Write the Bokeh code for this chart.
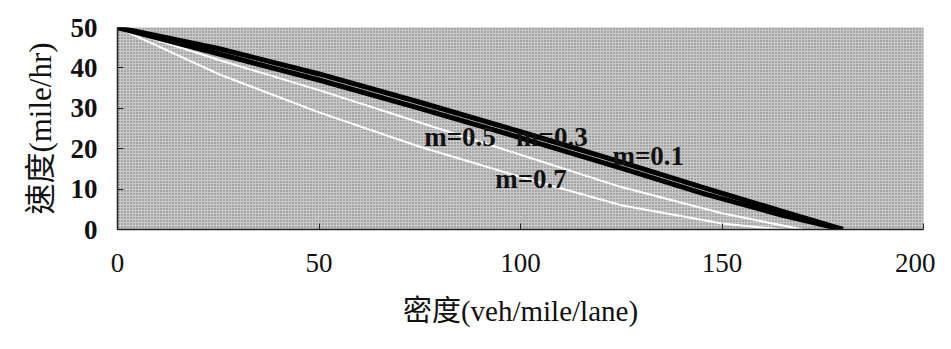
from bokeh.plotting import figure
from bokeh.models import Range1d, FixedTicker, BoxAnnotation
from bokeh.core.properties import value
from bokeh.embed import file_html
from bokeh.resources import INLINE

# density (veh/mile/lane) and speed (mile/hr)
k_m01 = [0, 25, 50, 75, 100, 125, 145, 165, 180]
u_m01 = [50, 44.8, 38.5, 31.5, 24.2, 16.7, 10.5, 4.5, 0]
k_m03 = [0, 25, 50, 75, 100, 125, 145, 165, 180]
u_m03 = [50, 43.5, 37.0, 30.0, 22.7, 15.2, 9.0, 3.5, 0]
k_m05 = [0, 25, 50, 75, 100, 125, 150, 170]
u_m05 = [50, 42.0, 34.5, 26.5, 18.5, 10.5, 4.0, 0]
k_m07 = [0, 25, 50, 75, 100, 125, 150, 165]
u_m07 = [50, 38.5, 29.0, 20.5, 13.0, 6.0, 1.5, 0]

label_text = ["m=0.5", "m=0.3", "m=0.1", "m=0.7"]
label_x = [85.0, 107.8, 131.7, 102.6]
label_y = [23.0, 23.0, 18.1, 12.4]

x_ticks = [0, 50, 100, 150, 200]
y_ticks = [0, 10, 20, 30, 40, 50]

SERIF = "'Liberation Serif', 'Times New Roman', 'Noto Sans CJK TC', serif"

p = figure(width=935, height=333, output_backend="svg", toolbar_location=None,
           x_range=Range1d(0, 200), y_range=Range1d(0, 50),
           min_border_left=117, min_border_right=12, min_border_top=27, min_border_bottom=104)
p.outline_line_color = None
p.background_fill_color = "#c9c9c9"
p.border_fill_color = "white"
p.grid.visible = False

bg = BoxAnnotation(fill_color="#c9c9c9", fill_alpha=1.0, line_color=None,
                   hatch_pattern="dot", hatch_color="#6e6e6e", hatch_scale=3,
                   hatch_weight=1.2, level="underlay")
p.add_layout(bg)

for ax in (p.xaxis, p.yaxis):
    ax.axis_line_color = "#222222"
    ax.axis_line_width = 1.5
    ax.major_tick_in = 6
    ax.major_tick_out = 0
    ax.minor_tick_line_color = None
    ax.major_tick_line_color = "#222222"
    ax.major_label_text_font = SERIF
    ax.major_label_text_font_size = "27px"
    ax.major_label_text_color = "#111111"
    ax.axis_label_text_font = SERIF
    ax.axis_label_text_font_style = "normal"
    ax.axis_label_text_color = "#111111"

p.xaxis.ticker = FixedTicker(ticks=x_ticks)
p.yaxis.ticker = FixedTicker(ticks=y_ticks)
p.yaxis.major_label_text_font_style = "bold"
p.xaxis.major_label_standoff = 24
p.yaxis.major_label_standoff = 20
p.xaxis.axis_label = "密度(veh/mile/lane)"
p.yaxis.axis_label = "速度(mile/hr)"
p.xaxis.axis_label_text_font_size = "29px"
p.yaxis.axis_label_text_font_size = "31px"
p.xaxis.axis_label_standoff = 20
p.yaxis.axis_label_standoff = 10

p.line(k_m07, u_m07, line_color="white", line_width=2)
p.line(k_m05, u_m05, line_color="white", line_width=2)
p.line(k_m03, u_m03, line_color="black", line_width=5)
p.line(k_m01, u_m01, line_color="black", line_width=5)

p.text(x=label_x, y=label_y, text=label_text, text_font=value("Liberation Serif"),
       text_font_size="27px", text_font_style="bold", text_align="center",
       text_baseline="middle", text_color="#111111")

open("out.html", "w").write(file_html(p, INLINE))
